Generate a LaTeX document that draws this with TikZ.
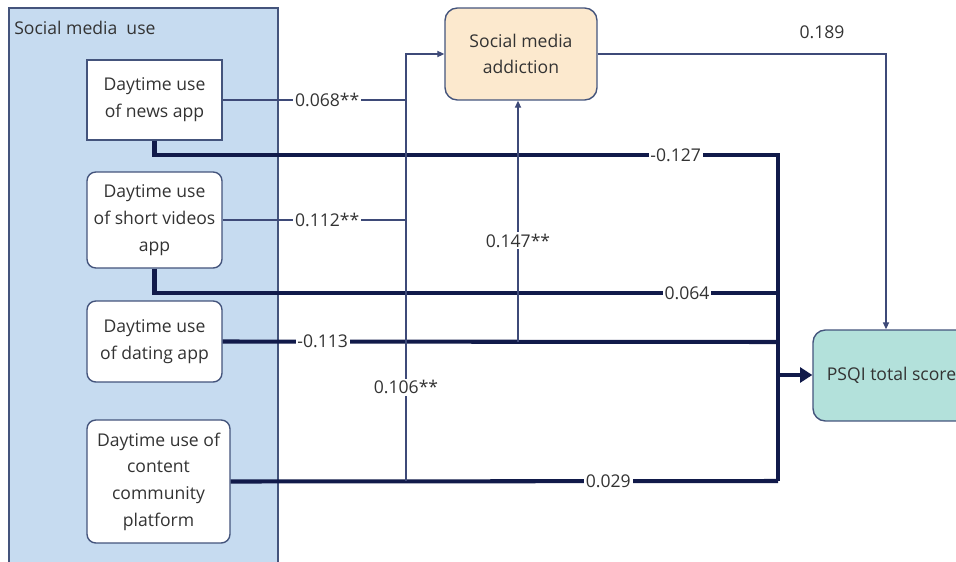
\documentclass[tikz,border=0pt]{standalone}
\usepackage{fontspec}
\setmainfont{Open Sans}
\usetikzlibrary{arrows.meta,positioning}

\definecolor{panelblue}{HTML}{C6DBF0}
\definecolor{panelline}{HTML}{44547C}
\definecolor{navy}{HTML}{111A4A}
\definecolor{slate}{HTML}{3E4A78}
\definecolor{smafill}{HTML}{FCE9CE}
\definecolor{psqifill}{HTML}{B3E1DB}
\definecolor{txt}{HTML}{333333}

\begin{document}
\begin{tikzpicture}[x=0.02cm,y=-0.02cm,
	font=\fontsize{10}{15.2}\selectfont,
	appbox/.style={draw=panelline,fill=white,line width=0.8pt,rounded corners=5pt,
		align=center,text=txt,inner sep=2pt},
	outbox/.style={draw=panelline,line width=0.8pt,rounded corners=7pt,align=center,text=txt},
	minorpath/.style={draw=slate,line width=0.7pt},
	mainpath/.style={draw=navy,line width=2.3pt,line join=miter},
	numlbl/.style={fill=white,text=txt,inner sep=1pt}]
	
	\useasboundingbox (0,0) rectangle (956,561);
	
	% social media use panel
	\draw[fill=panelblue,draw=panelline,line width=0.8pt] (9,8) rectangle (278,590);
	\node[anchor=west,text=txt,inner sep=0pt] (title) at (14,28) {Social media\ \ use};
	
	\node[appbox,rounded corners=0pt,minimum width=2.7cm,minimum height=1.6cm] (news) at (154.5,100) {Daytime use\\of news app};
	\node[appbox,minimum width=2.7cm,minimum height=1.92cm] (video) at (154.5,220) {Daytime use\\of short videos\\app};
	\node[appbox,minimum width=2.7cm,minimum height=1.62cm] (dating) at (154.5,341.5) {Daytime use\\of dating app};
	\node[appbox,minimum width=2.86cm,minimum height=2.46cm] (content) at (158.5,481.5) {Daytime use of\\content\\community\\platform};
	
	\node[outbox,fill=smafill,minimum width=3.04cm,minimum height=1.84cm] (sma) at (521,54) {Social media\\addiction};
	\node[outbox,fill=psqifill,minimum width=3.14cm,minimum height=1.82cm] (psqi) at (891.5,375.5) {PSQI total score};
	
	\coordinate (j1) at (406,100);
	\coordinate (j2) at (406,220);
	\coordinate (j4) at (406,481);
	\coordinate (jtop) at (406,54);
	\coordinate (j3) at (518,342);
	\coordinate (t1) at (778,155);
	\coordinate (t2) at (778,293);
	\coordinate (t3) at (778,342);
	\coordinate (t4) at (778,481);
	\coordinate (tm) at (778,375);
	\coordinate (c189) at (886,54);
	
	% direct paths to PSQI
	\draw[mainpath] (news.south) -- (news.south |- t1) -- node[numlbl,pos=0.836]{-0.127} (t1) -- (t4);
	\draw[mainpath] (video.south) -- (video.south |- t2) -- node[numlbl,pos=0.854]{0.064} (t2);
	\draw[mainpath] (dating.east) -- node[numlbl,pos=0.18]{-0.113} (t3);
	\draw[mainpath] (content.east) -- node[numlbl,pos=0.69]{0.029} (t4);
	\draw[mainpath,-{Triangle[length=7pt,width=8.5pt]}] (tm) -- (psqi.west |- tm);
	
	% paths through addiction
	\draw[minorpath] (news.east) -- node[numlbl,pos=0.57]{0.068**} (j1);
	\draw[minorpath] (video.east) -- node[numlbl,pos=0.57]{0.112**} (j2);
	\draw[minorpath,-{Triangle[length=4pt,width=3.5pt]}] (j4) -- node[numlbl,pos=0.22]{0.106**} (jtop) -- (sma.west);
	\draw[minorpath,-{Triangle[length=4pt,width=3.5pt]}] (j3) -- node[numlbl,pos=0.42]{0.147**} (sma.south -| j3);
	\draw[minorpath,-{Triangle[length=4pt,width=3.5pt]}] (sma.east) -- (c189) -- (c189 |- psqi.north);
	\node[text=txt] (l189) at (822,32) {0.189};
	
\end{tikzpicture}
\end{document}
